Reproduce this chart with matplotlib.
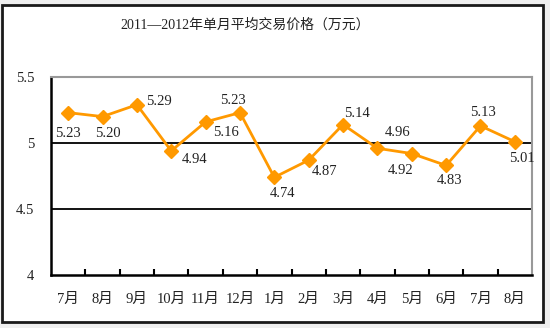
import matplotlib.pyplot as plt
from matplotlib.patches import Rectangle

months = ["7月", "8月", "9月", "10月", "11月", "12月", "1月",
          "2月", "3月", "4月", "5月", "6月", "7月", "8月"]
prices = [5.23, 5.20, 5.29, 4.94, 5.16, 5.23, 4.74,
          4.87, 5.14, 4.96, 4.92, 4.83, 5.13, 5.01]
y_ticks = [4, 4.5, 5, 5.5]
y_ticklabels = ["4", "4.5", "5", "5.5"]
title = "2011—2012年单月平均交易价格（万元）"

# label offsets from each marker, in pixels
label_offsets = [(0, -21), (5, -17), (22, 3), (23, -9), (20, -11), (-7, 12),
                 (8, -16), (16, -11), (14, 11), (20, 16), (-11, -17),
                 (3, -15), (3, 13), (7, -17)]

fonts = ["Liberation Serif", "Noto Sans CJK SC"]
plt.rcParams["font.family"] = fonts

fig = plt.figure(figsize=(5.5, 3.28), dpi=100, facecolor="#efefef")

# white chart area with dark frame
frame = Rectangle((2 / 550, 1 - 322 / 328), 541 / 550, 317 / 328,
                  transform=fig.transFigure, facecolor="white",
                  edgecolor="#1a1a1a", lw=2, zorder=-10)
fig.add_artist(frame)

ax = fig.add_axes([51 / 550, 53 / 328, 481 / 550, 198 / 328])
ax.set_zorder(1)
ax.set_facecolor("white")
x = list(range(len(prices)))

ax.plot(x, prices, color="#FF9900", lw=2, marker="D", markersize=7,
        markeredgecolor="#FF9900", zorder=3)

for xi, v, (dx, dy) in zip(x, prices, label_offsets):
    ax.annotate(f"{v:.2f}", (xi, v), xytext=(dx, dy), textcoords="offset pixels",
                ha="center", va="center", fontsize=10.5, color="#222222",
                family=fonts)

ax.set_xlim(-0.5, len(prices) - 0.5)
ax.set_ylim(4, 5.5)
ax.set_yticks(y_ticks)
ax.set_yticklabels(y_ticklabels)
ax.set_xticks(x)
ax.set_xticklabels(months)
ax.set_xticks([i + 0.5 for i in range(len(prices) - 1)], minor=True)
ax.tick_params(axis="x", which="major", length=0, pad=13, labelsize=10.5,
               labelcolor="#222222")
ax.tick_params(axis="x", which="minor", direction="in", length=4, width=1.5,
               color="black")
ax.tick_params(axis="y", length=0, pad=12, labelsize=10.5, labelcolor="#222222")

for yv in [4.5, 5]:
    ax.axhline(yv, color="black", lw=1.3, zorder=1)

ax.spines["left"].set_linewidth(1.8)
ax.spines["bottom"].set_linewidth(1.8)
ax.spines["top"].set_color("#999999")
ax.spines["right"].set_color("#999999")
ax.spines["top"].set_linewidth(1.5)
ax.spines["right"].set_linewidth(1.5)

fig.text(245 / 550, 1 - 25 / 328, title, ha="center", va="center",
         fontsize=10, family=fonts, color="#222222")

fig.savefig("out.png", dpi=100, facecolor=fig.get_facecolor())
